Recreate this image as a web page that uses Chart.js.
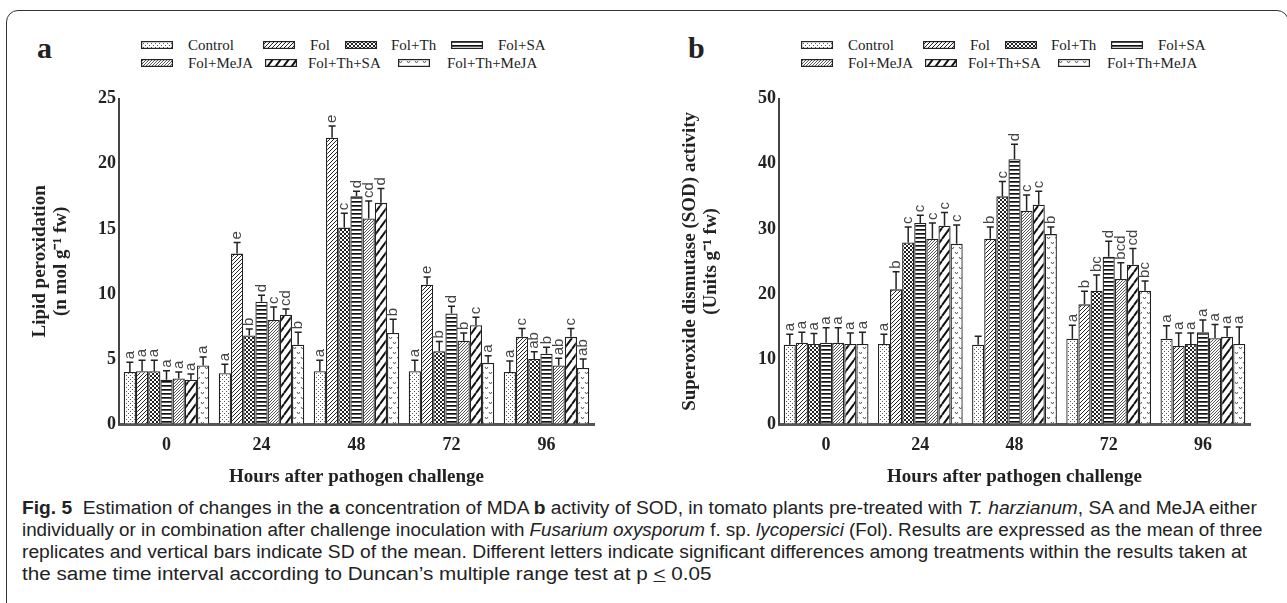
<!DOCTYPE html>
<html>
<head>
<meta charset="utf-8">
<script src="https://cdn.jsdelivr.net/npm/chart.js@4.4.1/dist/chart.umd.min.js"></script>
<style>
  body { margin: 0; background: #fff; width: 1287px; height: 603px; overflow: hidden; position: relative; font-family: "Liberation Serif", serif; color: #222; }
  #frame { position: absolute; left: 6px; top: 10px; width: 1283px; height: 700px; box-sizing: border-box; border: 1.5px solid #333; border-radius: 12px 12px 0 0; }
  canvas.chart { position: absolute; }
  .panel { position: absolute; font-size: 30px; font-weight: bold; line-height: 30px; }
  .sw { position: absolute; }
  .lg { position: absolute; font-size: 15px; line-height: 18px; white-space: nowrap; }
  .cap { position: absolute; left: 22px; font-family: "Liberation Sans Narrow", "Liberation Sans", sans-serif; font-size: 18px; line-height: 22px; white-space: nowrap; transform-origin: 0 50%; color: #222; }
</style>
</head>
<body>
<div id="frame"></div>
<div class="panel" style="left:37px; top:33px;">a</div>
<div class="panel" style="left:688px; top:33px;">b</div>
<div id="legends"></div>
<canvas id="mdaChart" class="chart" width="580" height="403" style="left:20px; top:85px;"></canvas>
<canvas id="sodChart" class="chart" width="586" height="403" style="left:670px; top:85px;"></canvas>

<div class="cap" style="top:497px;"><b>Fig. 5</b>&nbsp; Estimation of changes in the <b>a</b> concentration of MDA <b>b</b> activity of SOD, in tomato plants pre-treated with <i>T. harzianum</i>, SA and MeJA either</div>
<div class="cap" style="top:519px;">individually or in combination after challenge inoculation with <i>Fusarium oxysporum</i> f. sp. <i>lycopersici</i> (Fol). Results are expressed as the mean of three</div>
<div class="cap" style="top:541px;">replicates and vertical bars indicate SD of the mean. Different letters indicate significant differences among treatments within the results taken at</div>
<div class="cap" style="top:563px;">the same time interval according to Duncan’s multiple range test at p <u>&lt;</u> 0.05</div>

<script>
const hours = ["0", "24", "48", "72", "96"];
const treatments = ["Control", "Fol", "Fol+Th", "Fol+SA", "Fol+MeJA", "Fol+Th+SA", "Fol+Th+MeJA"];

// lipid peroxidation, one row per treatment
const mdaMean = [
  [4.0, 3.9, 4.05, 4.05, 4.0],
  [4.05, 13.1, 22.0, 10.7, 6.7],
  [4.05, 6.8, 15.1, 5.6, 5.0],
  [3.4, 9.4, 17.5, 8.5, 5.4],
  [3.5, 8.0, 15.8, 6.4, 4.5],
  [3.4, 8.4, 17.0, 7.6, 6.7],
  [4.5, 6.1, 7.0, 4.7, 4.3],
];
const mdaSd = [
  [0.75, 0.7, 0.85, 0.85, 0.85],
  [0.85, 0.85, 0.9, 0.6, 0.65],
  [0.85, 0.5, 1.1, 0.75, 0.55],
  [0.7, 0.5, 0.4, 0.55, 0.5],
  [0.5, 1.0, 1.35, 0.6, 0.55],
  [0.45, 0.45, 1.1, 0.6, 0.65],
  [0.65, 0.95, 1.05, 0.55, 0.7],
];
const mdaLetters = [
  ["a", "a", "a", "a", "a"],
  ["a", "e", "e", "e", "c"],
  ["a", "b", "c", "b", "ab"],
  ["a", "d", "d", "d", "b"],
  ["a", "c", "cd", "b", "ab"],
  ["a", "cd", "d", "c", "c"],
  ["a", "b", "b", "a", "ab"],
];

// SOD activity
const sodMean = [
  [12.2, 12.3, 12.2, 13.1, 13.1],
  [12.5, 20.7, 28.5, 18.4, 12.0],
  [12.3, 27.9, 35.0, 20.5, 12.3],
  [12.5, 30.9, 40.7, 25.7, 14.1],
  [12.5, 28.5, 32.8, 22.3, 13.2],
  [12.3, 30.5, 33.7, 24.5, 13.4],
  [12.3, 27.7, 29.2, 20.5, 12.3],
];
const sodSd = [
  [1.6, 1.5, 1.3, 2.1, 2.0],
  [1.6, 2.7, 1.8, 2.0, 2.0],
  [1.6, 2.4, 2.3, 2.4, 1.7],
  [2.3, 1.2, 2.3, 2.4, 1.9],
  [2.3, 2.4, 2.4, 2.5, 2.1],
  [1.7, 2.0, 2.1, 2.5, 1.5],
  [1.8, 2.9, 1.1, 1.5, 2.6],
];
const sodLetters = [
  ["a", "a", "", "a", "a"],
  ["a", "b", "b", "b", "a"],
  ["a", "c", "c", "bc", "a"],
  ["a", "c", "d", "d", "a"],
  ["a", "c", "c", "bcd", "a"],
  ["a", "c", "c", "cd", "a"],
  ["a", "c", "b", "bc", "a"],
];

const mdaTicks = [0, 5, 10, 15, 20, 25];
const sodTicks = [0, 10, 20, 30, 40, 50];

// fill patterns, one tile per treatment
function tile(w, h, draw) {
  const c = document.createElement("canvas");
  c.width = w;
  c.height = h;
  const g = c.getContext("2d");
  g.fillStyle = "#fff";
  g.fillRect(0, 0, w, h);
  draw(g);
  return c;
}
function diag(g, w, h, lw, color) {
  g.strokeStyle = color;
  g.lineWidth = lw;
  g.beginPath();
  for (let k = -w; k <= w; k += w) {
    g.moveTo(k, h);
    g.lineTo(k + w, 0);
  }
  g.stroke();
}
const tiles = [
  tile(4, 4, (g) => { g.fillStyle = "#555"; g.fillRect(0, 0, 1, 1); g.fillRect(2, 2, 1, 1); }),
  tile(4, 4, (g) => diag(g, 4, 4, 1, "#222")),
  tile(4, 4, (g) => { g.fillStyle = "#222"; g.fillRect(0, 0, 2, 2); g.fillRect(2, 2, 2, 2); }),
  tile(4, 4, (g) => { g.fillStyle = "#111"; g.fillRect(0, 0, 4, 1.7); }),
  tile(3, 3, (g) => diag(g, 3, 3, 1, "#555")),
  tile(8, 11, (g) => diag(g, 8, 11, 2, "#111")),
  tile(8, 10, (g) => {
    g.strokeStyle = "#555";
    g.lineWidth = 1;
    g.beginPath();
    g.moveTo(1, 2); g.lineTo(2.5, 4); g.lineTo(4, 2);
    g.moveTo(5, 7); g.lineTo(6.5, 9); g.lineTo(8, 7);
    g.stroke();
  }),
];

// legends
const legendPos = [
  [141, 188, 0], [263, 310, 0], [345, 391, 0], [451, 498, 0],
  [141, 188, 1], [265, 308, 1], [398, 447, 1],
];
const legends = document.getElementById("legends");
[0, 660].forEach((off) => {
  treatments.forEach((name, i) => {
    const [sx, tx, row] = legendPos[i];
    const cy = row === 0 ? 45 : 63;
    const sw = document.createElement("canvas");
    sw.width = 32;
    sw.height = 8;
    sw.className = "sw";
    sw.style.left = off + sx + "px";
    sw.style.top = cy - 4 + "px";
    const g = sw.getContext("2d");
    g.fillStyle = g.createPattern(tiles[i], "repeat");
    g.fillRect(0, 0, 32, 8);
    g.strokeStyle = "#222";
    g.lineWidth = 1.2;
    g.strokeRect(0.6, 0.6, 30.8, 6.8);
    legends.appendChild(sw);
    const t = document.createElement("div");
    t.className = "lg";
    t.textContent = name;
    t.style.left = off + tx + "px";
    t.style.top = cy - 9 + "px";
    legends.appendChild(t);
  });
});

const errorBars = {
  id: "errorBars",
  afterDatasetsDraw(chart) {
    const ctx = chart.ctx;
    const y = chart.scales.y;
    chart.data.datasets.forEach((ds, i) => {
      chart.getDatasetMeta(i).data.forEach((bar, j) => {
        const top = y.getPixelForValue(ds.data[j] + ds.sd[j]);
        ctx.save();
        ctx.strokeStyle = "#222";
        ctx.lineWidth = 1.5;
        ctx.beginPath();
        ctx.moveTo(bar.x, bar.y);
        ctx.lineTo(bar.x, top);
        ctx.moveTo(bar.x - 3.5, top);
        ctx.lineTo(bar.x + 3.5, top);
        ctx.stroke();
        const t = ds.letters[j];
        if (t) {
          ctx.translate(bar.x, top - 3);
          ctx.rotate(-Math.PI / 2);
          ctx.font = "15px 'Liberation Sans', sans-serif";
          ctx.fillStyle = "#444";
          ctx.textAlign = "left";
          ctx.textBaseline = "middle";
          ctx.fillText(t, 0, 0);
        }
        ctx.restore();
      });
    });
  },
};

const serif = "'Liberation Serif', serif";

function makeChart(id, means, sds, letters, ticks, yTitle, yWidth) {
  const ctx = document.getElementById(id).getContext("2d");
  return new Chart(ctx, {
    type: "bar",
    plugins: [errorBars],
    data: {
      labels: hours,
      datasets: treatments.map((name, i) => ({
        label: name,
        data: means[i],
        sd: sds[i],
        letters: letters[i],
        backgroundColor: ctx.createPattern(tiles[i], "repeat"),
        borderColor: "#222",
        borderWidth: 1.3,
        categoryPercentage: 0.9,
        barPercentage: 1,
      })),
    },
    options: {
      responsive: false,
      animation: false,
      layout: { padding: { top: 13, right: 6, left: 0, bottom: 0 } },
      plugins: { legend: { display: false }, tooltip: { enabled: false } },
      scales: {
        x: {
          grid: { display: true, drawOnChartArea: false, drawTicks: false },
          border: { color: "#555", width: 3 },
          ticks: { font: { family: serif, size: 18, weight: "bold" }, color: "#222", padding: 11 },
          title: {
            display: true,
            text: "Hours after pathogen challenge",
            font: { family: serif, size: 19, weight: "bold" },
            color: "#222",
            padding: { top: 0, bottom: 0 },
          },
          afterFit(s) { s.height = 64; },
        },
        y: {
          min: ticks[0],
          max: ticks[ticks.length - 1],
          afterBuildTicks(s) { s.ticks = ticks.map((v) => ({ value: v })); },
          grid: { display: true, drawOnChartArea: false, drawTicks: false },
          border: { color: "#444", width: 2 },
          ticks: { font: { family: serif, size: 18, weight: "bold" }, color: "#222", padding: 3 },
          title: {
            display: true,
            text: yTitle,
            font: { family: serif, size: 19, weight: "bold", lineHeight: 1.1 },
            color: "#222",
            padding: { top: 10, bottom: 0 },
          },
          afterFit(s) { s.width = yWidth; },
        },
      },
    },
  });
}

makeChart("mdaChart", mdaMean, mdaSd, mdaLetters, mdaTicks,
  ["Lipid peroxidation", "(n mol g\u207B\u00B9 fw)"], 99);
makeChart("sodChart", sodMean, sodSd, sodLetters, sodTicks,
  ["Superoxide dismutase (SOD) activity", "(Units g\u207B\u00B9 fw)"], 109);

// fit caption lines to the widths of the original block
const caps = document.querySelectorAll(".cap");
const targets = [1235, 1241, 1225, 690];
targets.forEach((w, i) => {
  caps[i].style.transform = "scaleX(" + w / caps[i].scrollWidth + ")";
});
</script>
</body>
</html>
